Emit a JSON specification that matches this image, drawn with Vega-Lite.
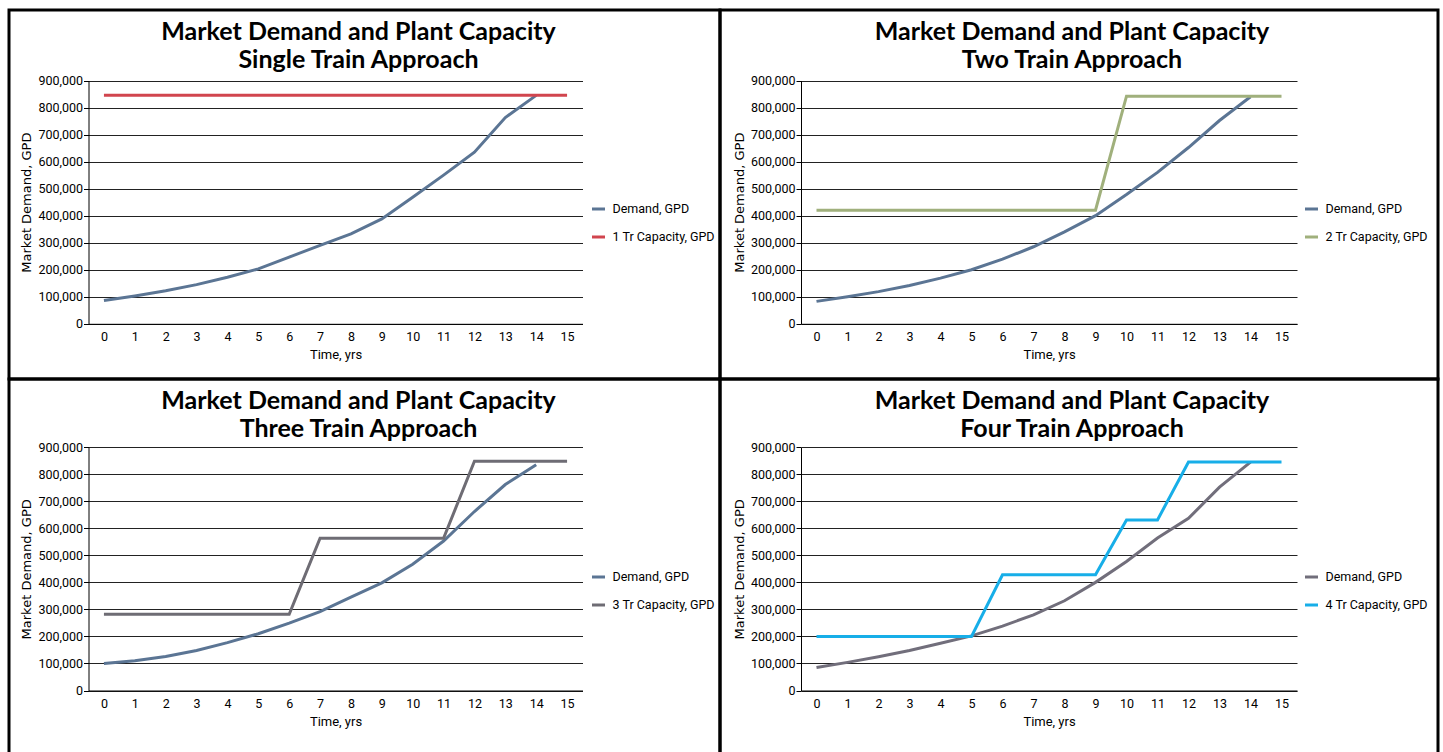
{
  "$schema": "https://vega.github.io/schema/vega-lite/v6.json",
  "padding": {"left": 7, "top": 8, "right": 0, "bottom": 0},
  "background": "white",
  "bounds": "flush",
  "spacing": 0,
  "columns": 2,
  "datasets": {
    "p1": [
      {"t": 0, "series": "Demand, GPD", "value": 86000},
      {"t": 1, "series": "Demand, GPD", "value": 103000},
      {"t": 2, "series": "Demand, GPD", "value": 122000},
      {"t": 3, "series": "Demand, GPD", "value": 145000},
      {"t": 4, "series": "Demand, GPD", "value": 172000},
      {"t": 5, "series": "Demand, GPD", "value": 203000},
      {"t": 6, "series": "Demand, GPD", "value": 247000},
      {"t": 7, "series": "Demand, GPD", "value": 290000},
      {"t": 8, "series": "Demand, GPD", "value": 333000},
      {"t": 9, "series": "Demand, GPD", "value": 388000},
      {"t": 10, "series": "Demand, GPD", "value": 468000},
      {"t": 11, "series": "Demand, GPD", "value": 550000},
      {"t": 12, "series": "Demand, GPD", "value": 635000},
      {"t": 13, "series": "Demand, GPD", "value": 763000},
      {"t": 14, "series": "Demand, GPD", "value": 845000},
      {"t": 0, "series": "1 Tr Capacity, GPD", "value": 845000},
      {"t": 1, "series": "1 Tr Capacity, GPD", "value": 845000},
      {"t": 2, "series": "1 Tr Capacity, GPD", "value": 845000},
      {"t": 3, "series": "1 Tr Capacity, GPD", "value": 845000},
      {"t": 4, "series": "1 Tr Capacity, GPD", "value": 845000},
      {"t": 5, "series": "1 Tr Capacity, GPD", "value": 845000},
      {"t": 6, "series": "1 Tr Capacity, GPD", "value": 845000},
      {"t": 7, "series": "1 Tr Capacity, GPD", "value": 845000},
      {"t": 8, "series": "1 Tr Capacity, GPD", "value": 845000},
      {"t": 9, "series": "1 Tr Capacity, GPD", "value": 845000},
      {"t": 10, "series": "1 Tr Capacity, GPD", "value": 845000},
      {"t": 11, "series": "1 Tr Capacity, GPD", "value": 845000},
      {"t": 12, "series": "1 Tr Capacity, GPD", "value": 845000},
      {"t": 13, "series": "1 Tr Capacity, GPD", "value": 845000},
      {"t": 14, "series": "1 Tr Capacity, GPD", "value": 845000},
      {"t": 15, "series": "1 Tr Capacity, GPD", "value": 845000}
    ],
    "p2": [
      {"t": 0, "series": "Demand, GPD", "value": 83000},
      {"t": 1, "series": "Demand, GPD", "value": 100000},
      {"t": 2, "series": "Demand, GPD", "value": 119000},
      {"t": 3, "series": "Demand, GPD", "value": 142000},
      {"t": 4, "series": "Demand, GPD", "value": 169000},
      {"t": 5, "series": "Demand, GPD", "value": 200000},
      {"t": 6, "series": "Demand, GPD", "value": 239000},
      {"t": 7, "series": "Demand, GPD", "value": 285000},
      {"t": 8, "series": "Demand, GPD", "value": 340000},
      {"t": 9, "series": "Demand, GPD", "value": 400000},
      {"t": 10, "series": "Demand, GPD", "value": 478000},
      {"t": 11, "series": "Demand, GPD", "value": 560000},
      {"t": 12, "series": "Demand, GPD", "value": 652000},
      {"t": 13, "series": "Demand, GPD", "value": 752000},
      {"t": 14, "series": "Demand, GPD", "value": 840000},
      {"t": 0, "series": "2 Tr Capacity, GPD", "value": 420000},
      {"t": 1, "series": "2 Tr Capacity, GPD", "value": 420000},
      {"t": 2, "series": "2 Tr Capacity, GPD", "value": 420000},
      {"t": 3, "series": "2 Tr Capacity, GPD", "value": 420000},
      {"t": 4, "series": "2 Tr Capacity, GPD", "value": 420000},
      {"t": 5, "series": "2 Tr Capacity, GPD", "value": 420000},
      {"t": 6, "series": "2 Tr Capacity, GPD", "value": 420000},
      {"t": 7, "series": "2 Tr Capacity, GPD", "value": 420000},
      {"t": 8, "series": "2 Tr Capacity, GPD", "value": 420000},
      {"t": 9, "series": "2 Tr Capacity, GPD", "value": 420000},
      {"t": 10, "series": "2 Tr Capacity, GPD", "value": 842000},
      {"t": 11, "series": "2 Tr Capacity, GPD", "value": 842000},
      {"t": 12, "series": "2 Tr Capacity, GPD", "value": 842000},
      {"t": 13, "series": "2 Tr Capacity, GPD", "value": 842000},
      {"t": 14, "series": "2 Tr Capacity, GPD", "value": 842000},
      {"t": 15, "series": "2 Tr Capacity, GPD", "value": 842000}
    ],
    "p3": [
      {"t": 0, "series": "Demand, GPD", "value": 100000},
      {"t": 1, "series": "Demand, GPD", "value": 110000},
      {"t": 2, "series": "Demand, GPD", "value": 126000},
      {"t": 3, "series": "Demand, GPD", "value": 148000},
      {"t": 4, "series": "Demand, GPD", "value": 177000},
      {"t": 5, "series": "Demand, GPD", "value": 210000},
      {"t": 6, "series": "Demand, GPD", "value": 249000},
      {"t": 7, "series": "Demand, GPD", "value": 292000},
      {"t": 8, "series": "Demand, GPD", "value": 345000},
      {"t": 9, "series": "Demand, GPD", "value": 398000},
      {"t": 10, "series": "Demand, GPD", "value": 467000},
      {"t": 11, "series": "Demand, GPD", "value": 553000},
      {"t": 12, "series": "Demand, GPD", "value": 662000},
      {"t": 13, "series": "Demand, GPD", "value": 762000},
      {"t": 14, "series": "Demand, GPD", "value": 835000},
      {"t": 0, "series": "3 Tr Capacity, GPD", "value": 282000},
      {"t": 1, "series": "3 Tr Capacity, GPD", "value": 282000},
      {"t": 2, "series": "3 Tr Capacity, GPD", "value": 282000},
      {"t": 3, "series": "3 Tr Capacity, GPD", "value": 282000},
      {"t": 4, "series": "3 Tr Capacity, GPD", "value": 282000},
      {"t": 5, "series": "3 Tr Capacity, GPD", "value": 282000},
      {"t": 6, "series": "3 Tr Capacity, GPD", "value": 282000},
      {"t": 7, "series": "3 Tr Capacity, GPD", "value": 563000},
      {"t": 8, "series": "3 Tr Capacity, GPD", "value": 563000},
      {"t": 9, "series": "3 Tr Capacity, GPD", "value": 563000},
      {"t": 10, "series": "3 Tr Capacity, GPD", "value": 563000},
      {"t": 11, "series": "3 Tr Capacity, GPD", "value": 563000},
      {"t": 12, "series": "3 Tr Capacity, GPD", "value": 848000},
      {"t": 13, "series": "3 Tr Capacity, GPD", "value": 848000},
      {"t": 14, "series": "3 Tr Capacity, GPD", "value": 848000},
      {"t": 15, "series": "3 Tr Capacity, GPD", "value": 848000}
    ],
    "p4": [
      {"t": 0, "series": "Demand, GPD", "value": 85000},
      {"t": 1, "series": "Demand, GPD", "value": 104000},
      {"t": 2, "series": "Demand, GPD", "value": 125000},
      {"t": 3, "series": "Demand, GPD", "value": 148000},
      {"t": 4, "series": "Demand, GPD", "value": 175000},
      {"t": 5, "series": "Demand, GPD", "value": 202000},
      {"t": 6, "series": "Demand, GPD", "value": 238000},
      {"t": 7, "series": "Demand, GPD", "value": 280000},
      {"t": 8, "series": "Demand, GPD", "value": 332000},
      {"t": 9, "series": "Demand, GPD", "value": 400000},
      {"t": 10, "series": "Demand, GPD", "value": 477000},
      {"t": 11, "series": "Demand, GPD", "value": 564000},
      {"t": 12, "series": "Demand, GPD", "value": 637000},
      {"t": 13, "series": "Demand, GPD", "value": 752000},
      {"t": 14, "series": "Demand, GPD", "value": 845000},
      {"t": 0, "series": "4 Tr Capacity, GPD", "value": 200000},
      {"t": 1, "series": "4 Tr Capacity, GPD", "value": 200000},
      {"t": 2, "series": "4 Tr Capacity, GPD", "value": 200000},
      {"t": 3, "series": "4 Tr Capacity, GPD", "value": 200000},
      {"t": 4, "series": "4 Tr Capacity, GPD", "value": 200000},
      {"t": 5, "series": "4 Tr Capacity, GPD", "value": 200000},
      {"t": 6, "series": "4 Tr Capacity, GPD", "value": 428000},
      {"t": 7, "series": "4 Tr Capacity, GPD", "value": 428000},
      {"t": 8, "series": "4 Tr Capacity, GPD", "value": 428000},
      {"t": 9, "series": "4 Tr Capacity, GPD", "value": 428000},
      {"t": 10, "series": "4 Tr Capacity, GPD", "value": 631000},
      {"t": 11, "series": "4 Tr Capacity, GPD", "value": 631000},
      {"t": 12, "series": "4 Tr Capacity, GPD", "value": 845000},
      {"t": 13, "series": "4 Tr Capacity, GPD", "value": 845000},
      {"t": 14, "series": "4 Tr Capacity, GPD", "value": 845000},
      {"t": 15, "series": "4 Tr Capacity, GPD", "value": 845000}
    ]
  },
  "resolve": {
    "scale": {"x": "independent", "y": "independent", "color": "independent"},
    "legend": {"color": "independent"},
    "axis": {"x": "independent", "y": "independent"}
  },
  "concat": [
    {
      "width": 711, "height": 369,
      "data": {"name": "p1"},
      "title": {"text": ["Market Demand and Plant Capacity", "Single Train Approach"], "offset": -63, "dx": -6},
      "mark": {"type": "line", "strokeWidth": 3},
      "encoding": {
        "x": {"field": "t", "type": "ordinal", "scale": {"type": "point", "padding": 0.5, "range": [79.5, 573.5]},
              "axis": {"title": "Time, yrs", "offset": -55.2, "labelAngle": 0, "ticks": false, "grid": false}},
        "y": {"field": "value", "type": "quantitative", "scale": {"domain": [0, 900000], "nice": false, "range": [313.8, 70.5]},
              "axis": {"title": "Market Demand, GPD", "offset": -79.5, "values": [0, 100000, 200000, 300000, 400000, 500000, 600000, 700000, 800000, 900000], "format": ",.0f"}},
        "color": {"field": "series", "type": "nominal",
                  "scale": {"domain": ["Demand, GPD", "1 Tr Capacity, GPD"], "range": ["#5b7594", "#d1454e"]},
                  "legend": {"title": null, "orient": "none", "legendX": 581.5, "legendY": 191}}
      }
    },
    {
      "width": 718, "height": 369,
      "data": {"name": "p2"},
      "title": {"text": ["Market Demand and Plant Capacity", "Two Train Approach"], "offset": -63, "dx": -7},
      "mark": {"type": "line", "strokeWidth": 3},
      "encoding": {
        "x": {"field": "t", "type": "ordinal", "scale": {"type": "point", "padding": 0.5, "range": [81, 577]},
              "axis": {"title": "Time, yrs", "offset": -55.2, "labelAngle": 0, "ticks": false, "grid": false}},
        "y": {"field": "value", "type": "quantitative", "scale": {"domain": [0, 900000], "nice": false, "range": [313.8, 70.5]},
              "axis": {"title": "Market Demand, GPD", "offset": -81, "values": [0, 100000, 200000, 300000, 400000, 500000, 600000, 700000, 800000, 900000], "format": ",.0f"}},
        "color": {"field": "series", "type": "nominal",
                  "scale": {"domain": ["Demand, GPD", "2 Tr Capacity, GPD"], "range": ["#5b7594", "#a0b07c"]},
                  "legend": {"title": null, "orient": "none", "legendX": 583.5, "legendY": 191}}
      }
    },
    {
      "width": 711, "height": 376,
      "data": {"name": "p3"},
      "title": {"text": ["Market Demand and Plant Capacity", "Three Train Approach"], "offset": -63, "dx": -6},
      "mark": {"type": "line", "strokeWidth": 3},
      "encoding": {
        "x": {"field": "t", "type": "ordinal", "scale": {"type": "point", "padding": 0.5, "range": [79.5, 573.5]},
              "axis": {"title": "Time, yrs", "offset": -64.5, "labelAngle": 0, "ticks": false, "grid": false}},
        "y": {"field": "value", "type": "quantitative", "scale": {"domain": [0, 900000], "nice": false, "range": [311.5, 68.2]},
              "axis": {"title": "Market Demand, GPD", "offset": -79.5, "values": [0, 100000, 200000, 300000, 400000, 500000, 600000, 700000, 800000, 900000], "format": ",.0f"}},
        "color": {"field": "series", "type": "nominal",
                  "scale": {"domain": ["Demand, GPD", "3 Tr Capacity, GPD"], "range": ["#5b7594", "#6e6c74"]},
                  "legend": {"title": null, "orient": "none", "legendX": 581.5, "legendY": 190}}
      }
    },
    {
      "width": 718, "height": 376,
      "data": {"name": "p4"},
      "title": {"text": ["Market Demand and Plant Capacity", "Four Train Approach"], "offset": -63, "dx": -7},
      "mark": {"type": "line", "strokeWidth": 3},
      "encoding": {
        "x": {"field": "t", "type": "ordinal", "scale": {"type": "point", "padding": 0.5, "range": [81, 577]},
              "axis": {"title": "Time, yrs", "offset": -64.5, "labelAngle": 0, "ticks": false, "grid": false}},
        "y": {"field": "value", "type": "quantitative", "scale": {"domain": [0, 900000], "nice": false, "range": [311.5, 68.2]},
              "axis": {"title": "Market Demand, GPD", "offset": -81, "values": [0, 100000, 200000, 300000, 400000, 500000, 600000, 700000, 800000, 900000], "format": ",.0f"}},
        "color": {"field": "series", "type": "nominal",
                  "scale": {"domain": ["Demand, GPD", "4 Tr Capacity, GPD"], "range": ["#716e7b", "#17aee8"]},
                  "legend": {"title": null, "orient": "none", "legendX": 583.5, "legendY": 190}}
      }
    }
  ],
  "config": {
    "view": {"stroke": "black", "strokeWidth": 3},
    "axis": {
      "labelFont": "Roboto", "labelFontSize": 12.5, "labelColor": "black",
      "domainColor": "black", "domainWidth": 1, "gridColor": "#222222", "gridWidth": 1,
      "tickColor": "black", "tickSize": 5, "labelPadding": 1,
      "titleFont": "DejaVu Sans", "titleFontWeight": "normal", "titleFontSize": 13, "titleColor": "black", "titlePadding": 4
    },
    "axisX": {"labelPadding": 7, "titleFont": "Roboto", "titleFontSize": 13, "titlePadding": 5},
    "title": {"font": "Lato", "fontSize": 25, "fontWeight": "bold", "color": "black", "lineHeight": 28, "anchor": "middle"},
    "legend": {"labelFont": "Roboto", "labelFontSize": 12.5, "labelColor": "black", "symbolType": "stroke", "symbolStrokeWidth": 3, "symbolSize": 169, "rowPadding": 13, "labelOffset": 6}
  }
}
